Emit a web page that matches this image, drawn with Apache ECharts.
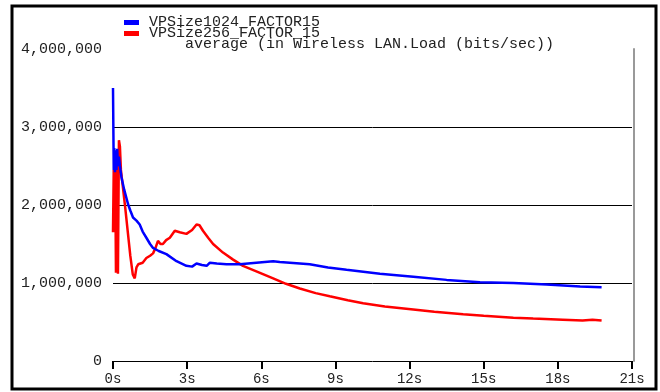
<!DOCTYPE html>
<html>
<head>
<meta charset="utf-8">
<script src="https://cdn.jsdelivr.net/npm/echarts@6/dist/echarts.min.js"></script>
<style>
  html, body { margin: 0; padding: 0; background: #fff; }
  #chart { width: 660px; height: 392px; }
</style>
</head>
<body>
<div id="chart"></div>
<script>
// series names
const seriesNames = ['VPSize1024_FACTOR15', 'VPSize256_FACTOR_15'];

// VPSize1024_FACTOR15 (blue): time in s, load in bits/sec
const blueTime = [0, 0.03, 0.05, 0.08, 0.11, 0.14, 0.17, 0.2, 0.24, 0.28, 0.34, 0.45, 0.61, 0.7, 0.81, 0.95,
  1.08, 1.2, 1.35, 1.5, 1.62, 1.85, 2.16, 2.57, 2.97, 3.2, 3.38, 3.6, 3.79, 3.92, 4.2, 4.59, 5.13, 5.8,
  6.48, 6.75, 7.56, 7.96, 8.7, 9.45, 10.8, 12.15, 13.5, 14.85, 16.2, 17.55, 18.9, 19.77];
const blueLoad = [3500000, 2450000, 2730000, 2420000, 2700000, 2450000, 2720000, 2500000, 2620000, 2500000,
  2360000, 2200000, 2010000, 1930000, 1840000, 1800000, 1750000, 1660000, 1580000, 1500000, 1450000,
  1410000, 1370000, 1280000, 1220000, 1210000, 1250000, 1230000, 1220000, 1260000, 1250000, 1240000,
  1240000, 1260000, 1280000, 1270000, 1250000, 1240000, 1200000, 1170000, 1120000, 1080000, 1040000,
  1010000, 1000000, 980000, 955000, 945000];

// VPSize256_FACTOR_15 (red)
const redTime = [0, 0.03, 0.06, 0.09, 0.12, 0.16, 0.2, 0.24, 0.28, 0.32, 0.4, 0.5, 0.6, 0.7, 0.8, 0.88,
  0.95, 1.02, 1.2, 1.35, 1.5, 1.62, 1.72, 1.82, 1.92, 2.02, 2.15, 2.3, 2.5, 2.7, 2.97, 3.2, 3.38, 3.5,
  3.64, 3.85, 4.05, 4.45, 4.86, 5.26, 5.8, 6.48, 7.0, 7.56, 8.2, 8.77, 9.5, 10.12, 11, 12.15, 13, 14.17,
  15, 16.2, 17, 18.2, 19, 19.4, 19.77];
const redLoad = [1650000, 2450000, 1650000, 2450000, 1130000, 2600000, 1120000, 2830000, 2750000, 2450000,
  2230000, 1950000, 1650000, 1350000, 1110000, 1060000, 1200000, 1240000, 1260000, 1320000, 1350000,
  1380000, 1450000, 1540000, 1500000, 1500000, 1550000, 1580000, 1670000, 1650000, 1630000, 1680000,
  1750000, 1740000, 1670000, 1580000, 1500000, 1390000, 1300000, 1220000, 1150000, 1060000, 990000,
  930000, 870000, 830000, 780000, 740000, 700000, 660000, 630000, 600000, 580000, 556000, 545000,
  530000, 520000, 530000, 520000];

const yTicks = [0, 1000000, 2000000, 3000000, 4000000];
const xTicks = [0, 3, 6, 9, 12, 15, 18, 21];

const font = 'Liberation Mono';
const pair = (t, v) => t.map((x, i) => [x, v[i]]);

const legendItem = (name, top) => ({
  orient: 'vertical',
  left: 119, top: top,
  itemWidth: 15, itemHeight: 5, itemGap: 0,
  icon: 'rect',
  data: [name],
  selectedMode: false,
  textStyle: { fontFamily: font, fontSize: 15, color: '#222', padding: [0, 0, 0, 5] }
});

const chart = echarts.init(document.getElementById('chart'));
chart.setOption({
  animation: false,
  backgroundColor: '#fff',
  textStyle: { fontFamily: font },
  graphic: [{
    type: 'rect',
    shape: { x: 12, y: 6, width: 644, height: 383 },
    style: { fill: 'none', stroke: '#000', lineWidth: 3 },
    silent: true
  }],
  title: {
    text: 'average (in Wireless LAN.Load (bits/sec))',
    left: 180, top: 32,
    textStyle: { fontFamily: font, fontSize: 15, fontWeight: 'normal', color: '#222' }
  },
  legend: [legendItem(seriesNames[0], 10), legendItem(seriesNames[1], 21)],
  grid: { left: 113, right: 28, top: 49, bottom: 31 },
  xAxis: {
    type: 'value',
    min: 0, max: 21, interval: 3,
    axisLine: { lineStyle: { color: '#000', width: 1 } },
    axisTick: { show: true, length: 8, lineStyle: { color: '#000', width: 2 } },
    axisLabel: {
      color: '#222', fontFamily: font, fontSize: 14, margin: 11,
      formatter: v => xTicks.includes(v) ? v + 's' : ''
    },
    splitLine: { show: false }
  },
  yAxis: [{
    type: 'value',
    min: 0, max: 4000000, interval: 1000000,
    axisLine: { show: false },
    axisTick: { show: false },
    axisLabel: {
      color: '#222', fontFamily: font, fontSize: 15, margin: 11,
      formatter: v => yTicks.includes(v) ? v.toLocaleString('en-US') : ''
    },
    splitLine: {
      show: true,
      lineStyle: { color: ['transparent', '#000', '#000', '#000', 'transparent'], width: 1 }
    }
  }, {
    type: 'value',
    position: 'right',
    min: 0, max: 4000000, interval: 1000000,
    offset: 2,
    axisLine: { show: true, lineStyle: { color: '#999', width: 2 } },
    axisTick: { show: false },
    axisLabel: { show: false },
    splitLine: { show: false }
  }],
  series: [{
    name: seriesNames[1],
    type: 'line',
    data: pair(redTime, redLoad),
    showSymbol: false,
    lineStyle: { color: '#ff0000', width: 2.5 },
    itemStyle: { color: '#ff0000' }
  }, {
    name: seriesNames[0],
    type: 'line',
    data: pair(blueTime, blueLoad),
    showSymbol: false,
    lineStyle: { color: '#0000ff', width: 2.5 },
    itemStyle: { color: '#0000ff' }
  }]
});
</script>
</body>
</html>
